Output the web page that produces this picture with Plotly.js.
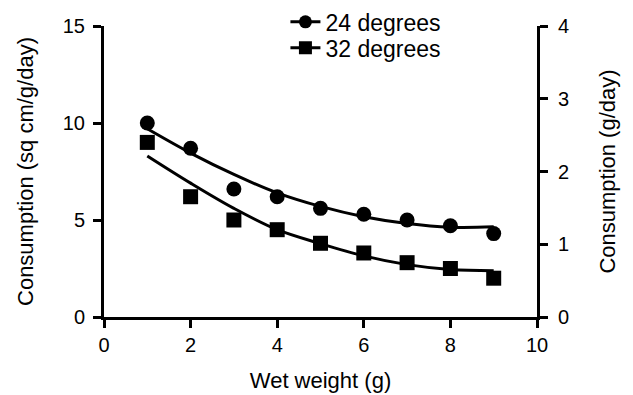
<!DOCTYPE html>
<html>
<head>
<meta charset="utf-8">
<script src="https://cdn.plot.ly/plotly-3.0.1.min.js"></script>
<style>html,body{margin:0;padding:0;background:#fff;}#chart{width:633px;height:395px;}</style>
</head>
<body>
<div id="chart"></div>
<script>
// Data
const weights = [1, 2, 3, 4, 5, 6, 7, 8, 9];
const consumption24 = [10.0, 8.7, 6.6, 6.2, 5.6, 5.3, 5.0, 4.7, 4.3];
const consumption32 = [9.0, 6.2, 5.0, 4.5, 3.8, 3.3, 2.8, 2.5, 2.0];
// Fitted curves at each weight
const fit24 = [9.7, 8.45, 7.35, 6.4, 5.7, 5.17, 4.82, 4.63, 4.65];
const fit32 = [8.3, 6.9, 5.6, 4.5, 3.78, 3.15, 2.7, 2.45, 2.39];
const seriesNames = ['24 degrees', '32 degrees'];
const xTicks = [0, 2, 4, 6, 8, 10];

const FONT = 'Arial, "Liberation Sans", sans-serif';
const black = '#000000';

const traces = [
  {x: weights, y: fit24, mode: 'lines', line: {color: black, width: 3, shape: 'spline'}, showlegend: false, hoverinfo: 'skip'},
  {x: weights, y: fit32, mode: 'lines', line: {color: black, width: 3, shape: 'spline'}, showlegend: false, hoverinfo: 'skip'},
  {x: weights, y: consumption24, mode: 'markers', marker: {symbol: 'circle', size: 15, color: black}, showlegend: false},
  {x: weights, y: consumption32, mode: 'markers', marker: {symbol: 'square', size: 15, color: black}, showlegend: false},
  {x: [null], y: [null], yaxis: 'y2', legend: 'legend', name: seriesNames[0], mode: 'lines+markers', line: {color: black, width: 3}, marker: {symbol: 'circle', size: 13, color: black}},
  {x: [null], y: [null], yaxis: 'y2', legend: 'legend2', name: seriesNames[1], mode: 'lines+markers', line: {color: black, width: 3}, marker: {symbol: 'square', size: 13, color: black}}
];

const tickFont = {family: FONT, size: 20, color: black};
const titleFont = {family: FONT, size: 22, color: black};
const legendFont = {family: FONT, size: 23, color: black};

const axisCommon = {
  showline: true, linecolor: black, linewidth: 3,
  ticks: 'outside', ticklen: 8, tickwidth: 3, tickcolor: black,
  showgrid: false, zeroline: false,
  tickfont: tickFont,
  fixedrange: true, automargin: false
};

const layout = {
  width: 633, height: 395,
  margin: {l: 104, r: 96, t: 26, b: 78, pad: 0, autoexpand: false},
  paper_bgcolor: '#ffffff', plot_bgcolor: '#ffffff',
  font: {family: FONT, size: 20, color: black},
  showlegend: true,
  legend: {x: 0.419, y: 1.088, xanchor: 'left', yanchor: 'top', bgcolor: 'rgba(0,0,0,0)', font: legendFont},
  legend2: {x: 0.419, y: 0.999, xanchor: 'left', yanchor: 'top', bgcolor: 'rgba(0,0,0,0)', font: legendFont},
  xaxis: Object.assign({}, axisCommon, {
    range: [0, 10], tickvals: xTicks,
    title: {text: 'Wet weight (g)', font: titleFont, standoff: 18}
  }),
  yaxis: Object.assign({}, axisCommon, {
    range: [0, 15], dtick: 5, ticklabelstandoff: 4,
    title: {text: 'Consumption (sq cm/g/day)', font: titleFont, standoff: 24}
  }),
  yaxis2: Object.assign({}, axisCommon, {
    range: [0, 4], dtick: 1, overlaying: 'y', side: 'right', anchor: 'x', ticklabelstandoff: 6,
    title: {text: 'Consumption (g/day)', font: titleFont, standoff: 32}
  })
};

Plotly.newPlot('chart', traces, layout, {displayModeBar: false, staticPlot: true});
</script>
</body>
</html>
